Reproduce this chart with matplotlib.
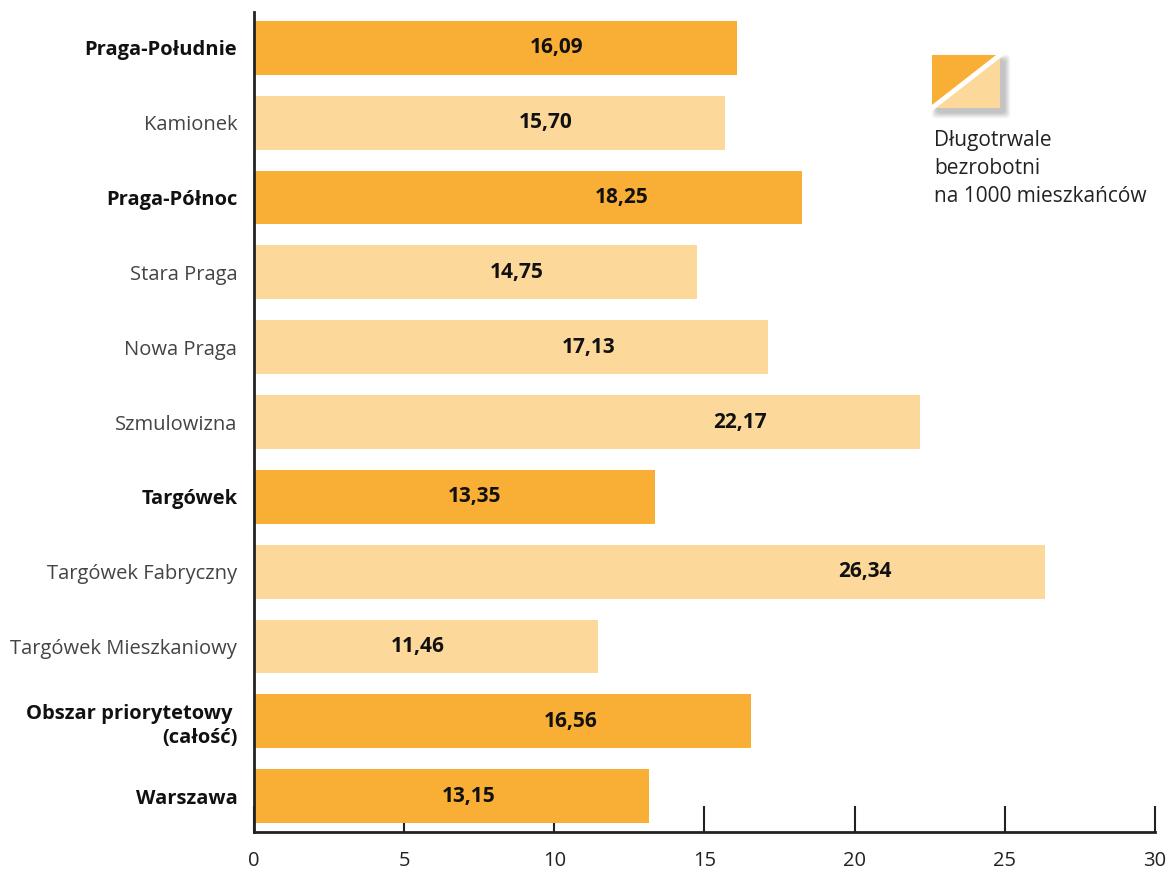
import numpy as np
import matplotlib.pyplot as plt
from matplotlib.patches import Polygon, FancyBboxPatch

districts = [
    "Praga-Południe", "Kamionek", "Praga-Północ", "Stara Praga", "Nowa Praga",
    "Szmulowizna", "Targówek", "Targówek Fabryczny", "Targówek Mieszkaniowy",
    "Obszar priorytetowy \n(całość)", "Warszawa",
]
values = [16.09, 15.70, 18.25, 14.75, 17.13, 22.17, 13.35, 26.34, 11.46, 16.56, 13.15]
# aggregate rows (whole districts / totals) are drawn dark and bold
is_total = [True, False, True, False, False, False, True, False, False, True, True]
xticks = [0, 5, 10, 15, 20, 25, 30]

DARK = "#F9AE35"
LIGHT = "#FDD89B"
FONT = "Open Sans"

fig = plt.figure(figsize=(11.71, 8.75), dpi=100)
ax = fig.add_axes([0.2169, 0.0491, 0.7694, 0.9372])

y = np.arange(len(values))
colors = [DARK if t else LIGHT for t in is_total]
ax.barh(y, values, height=0.72, color=colors, zorder=3)

for yi, v in zip(y, values):
    ax.text(v - 6, yi, f"{v:.2f}".replace(".", ","), ha="center", va="center",
            fontsize=15, fontweight="bold", family=FONT, color="#111111", zorder=4)

ax.set_ylim(10.48, -0.48)
ax.set_xlim(0, 30)
ax.set_yticks(y)
ax.set_yticklabels(districts, family=FONT, fontsize=14.5, linespacing=1.25)
for lab, t in zip(ax.get_yticklabels(), is_total):
    lab.set_fontweight("bold" if t else "normal")
    lab.set_color("#111111" if t else "#444444")
ax.tick_params(axis="y", length=0, pad=12)

ax.set_xticks(xticks)
ax.set_xticklabels([str(t) for t in xticks], family=FONT, fontsize=14.5, color="#222222")
ax.tick_params(axis="x", direction="in", length=19, width=1.5, pad=14, color="#222222")

for side in ("top", "right"):
    ax.spines[side].set_visible(False)
for side in ("left", "bottom"):
    ax.spines[side].set_linewidth(2)
    ax.spines[side].set_color("#222222")
    ax.spines[side].set_zorder(5)

# legend swatch: split square with a soft drop shadow
tr = fig.transFigure
W, H = 1171.0, 875.0
x0, x1 = 932 / W, 1000 / W
y1, y0 = 1 - 55 / H, 1 - 108 / H
for i in range(12):
    grow = i * 1.0
    fig.patches.append(FancyBboxPatch(
        (x0 + (5 - grow * 0.5) / W, y0 - (5 + grow * 0.5) / H),
        x1 - x0 + grow / W, y1 - y0 + grow / H,
        boxstyle="round,pad=0,rounding_size=0.004", transform=tr,
        facecolor="#000000", alpha=0.018, edgecolor="none", zorder=1))
fig.patches.append(Polygon([(x0, y0), (x0, y1), (x1, y1)], closed=True, transform=tr,
                           facecolor=DARK, edgecolor="none", zorder=2))
fig.patches.append(Polygon([(x0, y0), (x1, y0), (x1, y1)], closed=True, transform=tr,
                           facecolor=LIGHT, edgecolor="none", zorder=2))
fig.lines.append(plt.Line2D([x0, x1], [y0, y1], transform=tr, color="white", lw=3.5, zorder=3))

fig.text(934 / W, 1 - 130 / H, "Długotrwale\nbezrobotni\nna 1000 mieszkańców",
         ha="left", va="top", family=FONT, fontsize=15, color="#222222", linespacing=1.45)

fig.savefig("out.png", dpi=100, facecolor="white")
